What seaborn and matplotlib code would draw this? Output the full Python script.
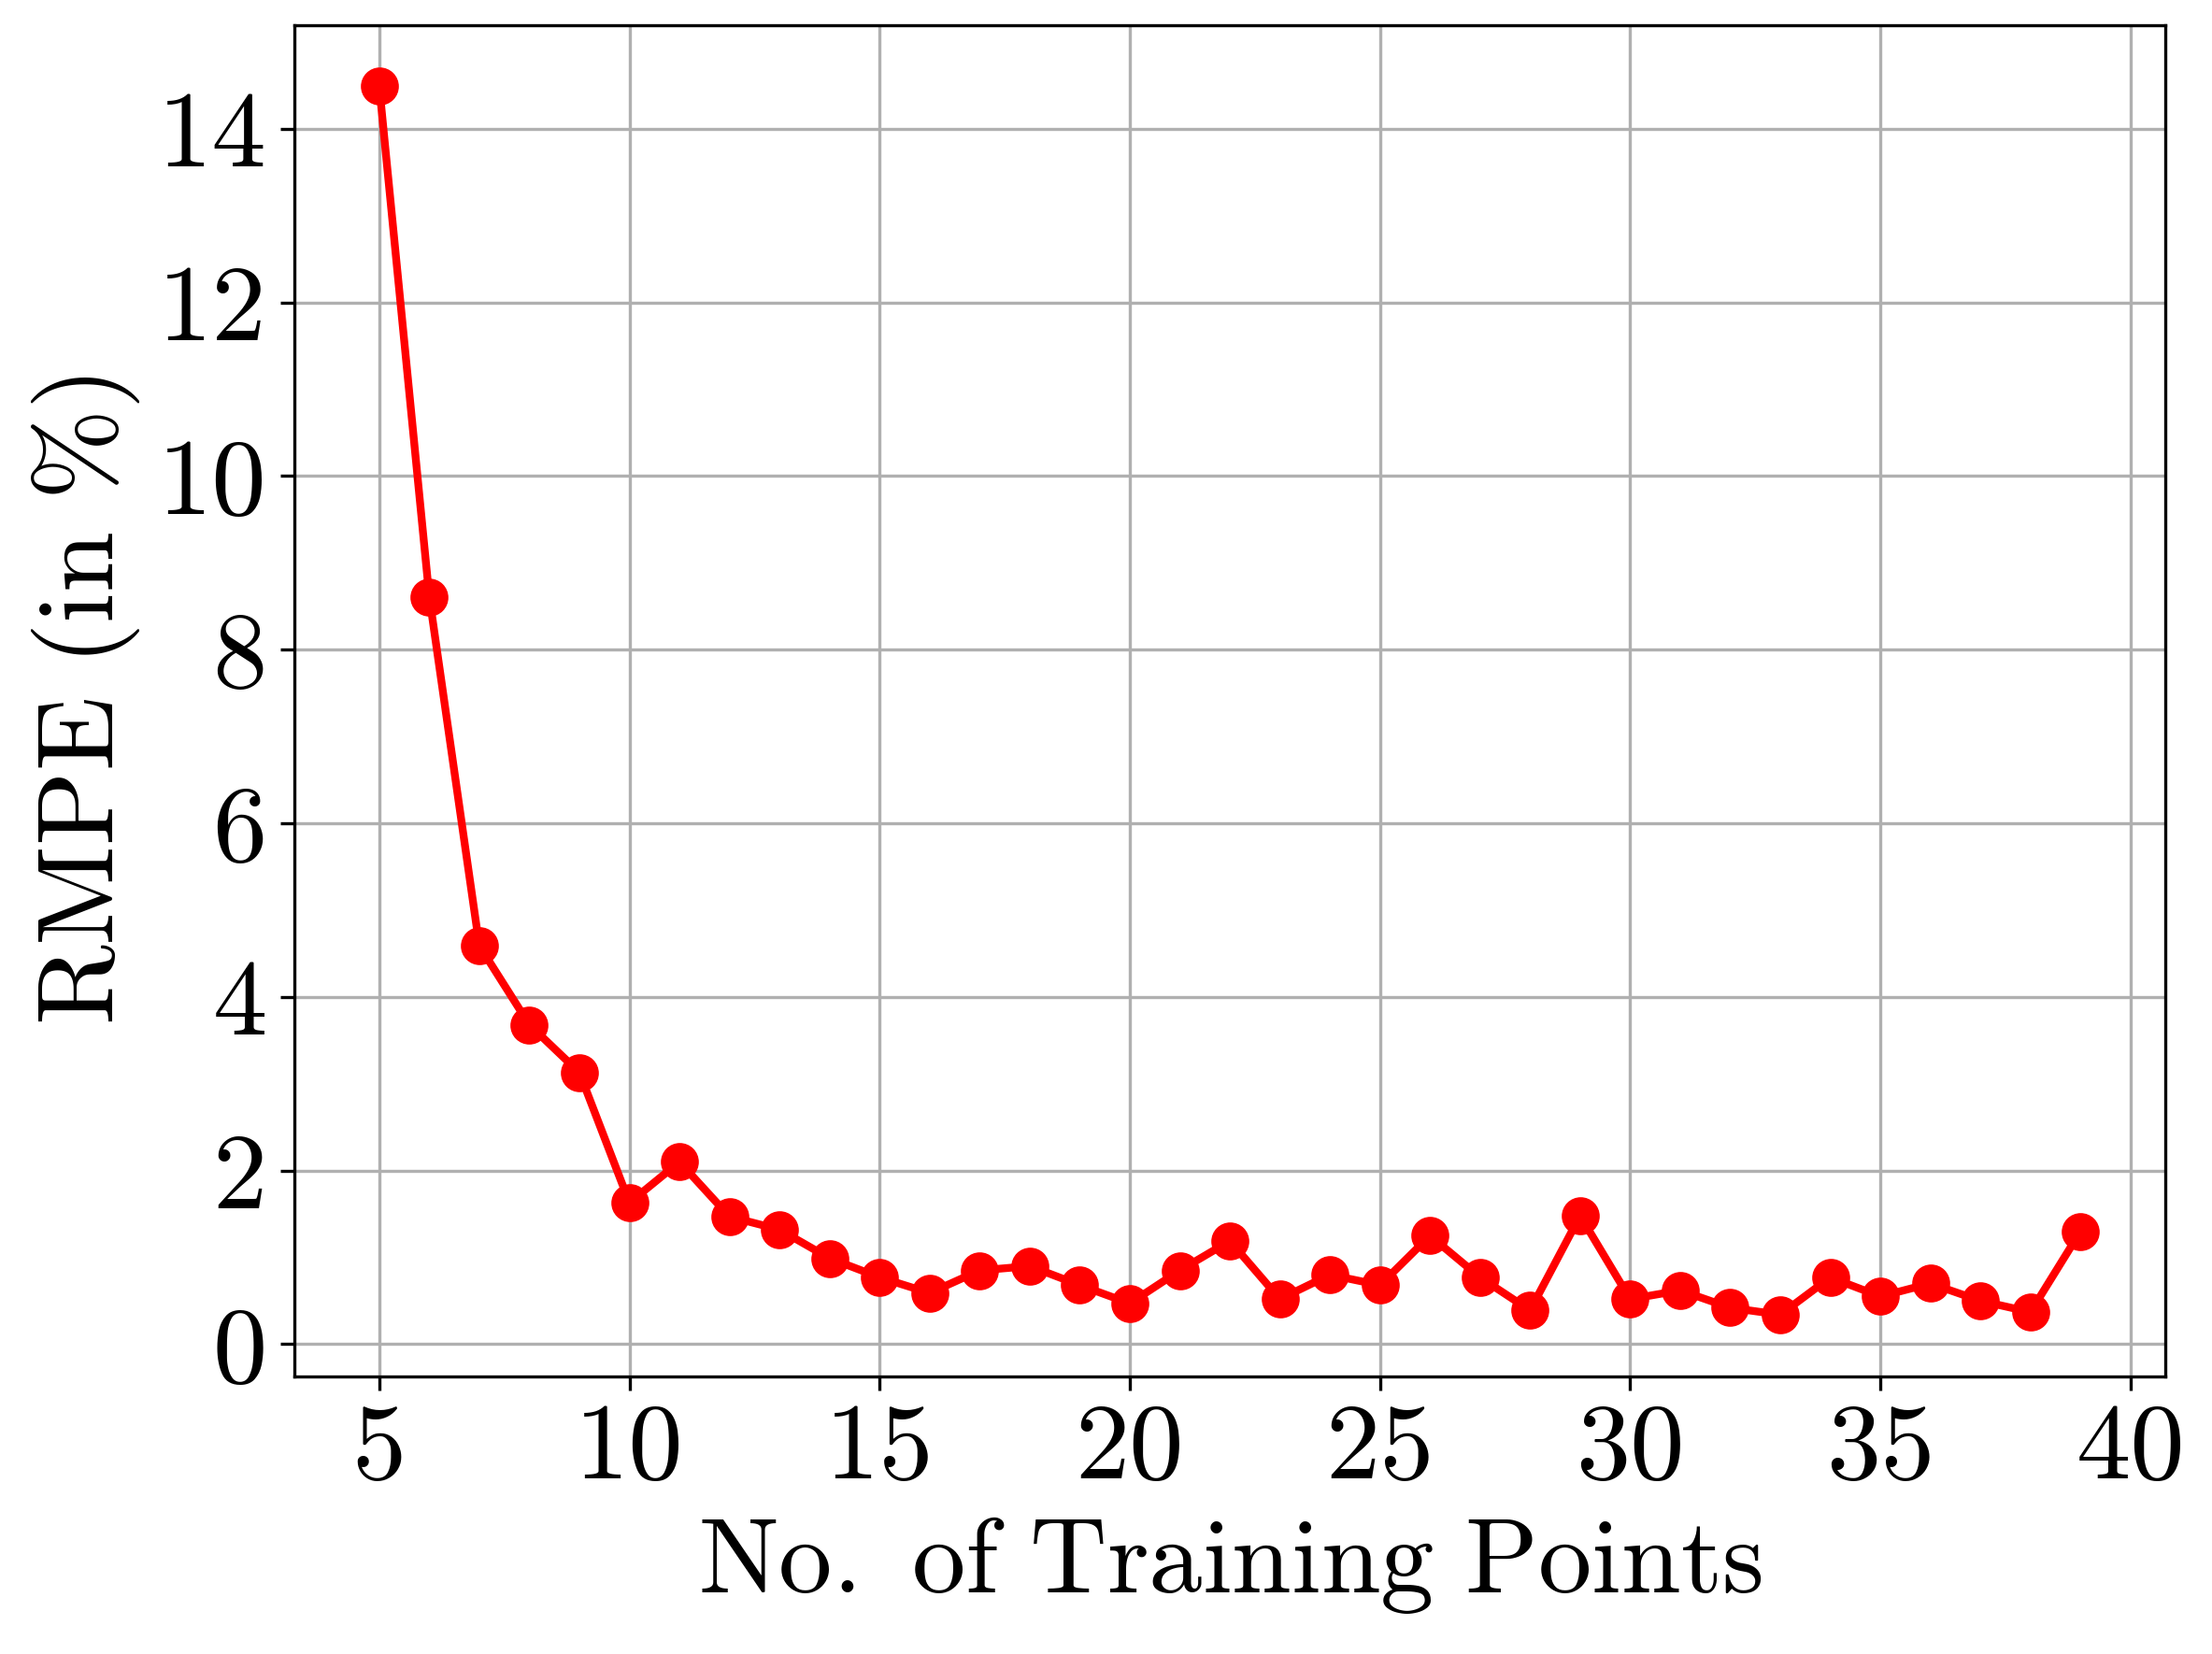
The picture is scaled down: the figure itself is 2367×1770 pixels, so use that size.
import numpy as np
import pandas as pd
import matplotlib
matplotlib.use('Agg')
import matplotlib.pyplot as plt
import seaborn as sns

sns.set_style('ticks')
plt.rcParams['font.family'] = 'serif'
plt.rcParams['font.serif'] = ['cmr10', 'DejaVu Serif']
plt.rcParams['mathtext.fontset'] = 'cm'
plt.rcParams['axes.unicode_minus'] = False
plt.rcParams['text.color'] = 'black'
plt.rcParams['axes.labelcolor'] = 'black'
plt.rcParams['xtick.color'] = 'black'
plt.rcParams['ytick.color'] = 'black'

n_points = list(range(5, 40))
rmpe = [14.49, 8.61, 4.59, 3.68, 3.13, 1.63, 2.10, 1.47, 1.32, 0.99,
        0.77, 0.59, 0.85, 0.90, 0.68, 0.47, 0.85, 1.19, 0.52, 0.80,
        0.68, 1.25, 0.77, 0.39, 1.48, 0.52, 0.62, 0.42, 0.34, 0.77,
        0.55, 0.70, 0.50, 0.37, 1.30]

df = pd.DataFrame({'n': n_points, 'rmpe': rmpe})

fig, ax = plt.subplots(figsize=(7.89, 5.9), dpi=300)
fig.subplots_adjust(left=0.133, right=0.979, top=0.985, bottom=0.168)

sns.lineplot(data=df, x='n', y='rmpe', ax=ax, color='red', linewidth=2,
             marker='o', markersize=9, markeredgecolor='red', zorder=3)

ax.grid(True, color='#b0b0b0', linewidth=0.8)
ax.set_xticks([5, 10, 15, 20, 25, 30, 35, 40])
ax.set_yticks([0, 2, 4, 6, 8, 10, 12, 14])
ax.tick_params(labelsize=28, colors='black')
ax.set_xlabel(r'$\mathrm{No.\ of\ Training\ Points}$', fontsize=27.5)
ax.set_ylabel(r'$\mathrm{RMPE\ (in\ \%)}$', fontsize=28)
for s in ax.spines.values():
    s.set_color('black')
    s.set_linewidth(0.8)

fig.savefig('out.png', dpi=300)
